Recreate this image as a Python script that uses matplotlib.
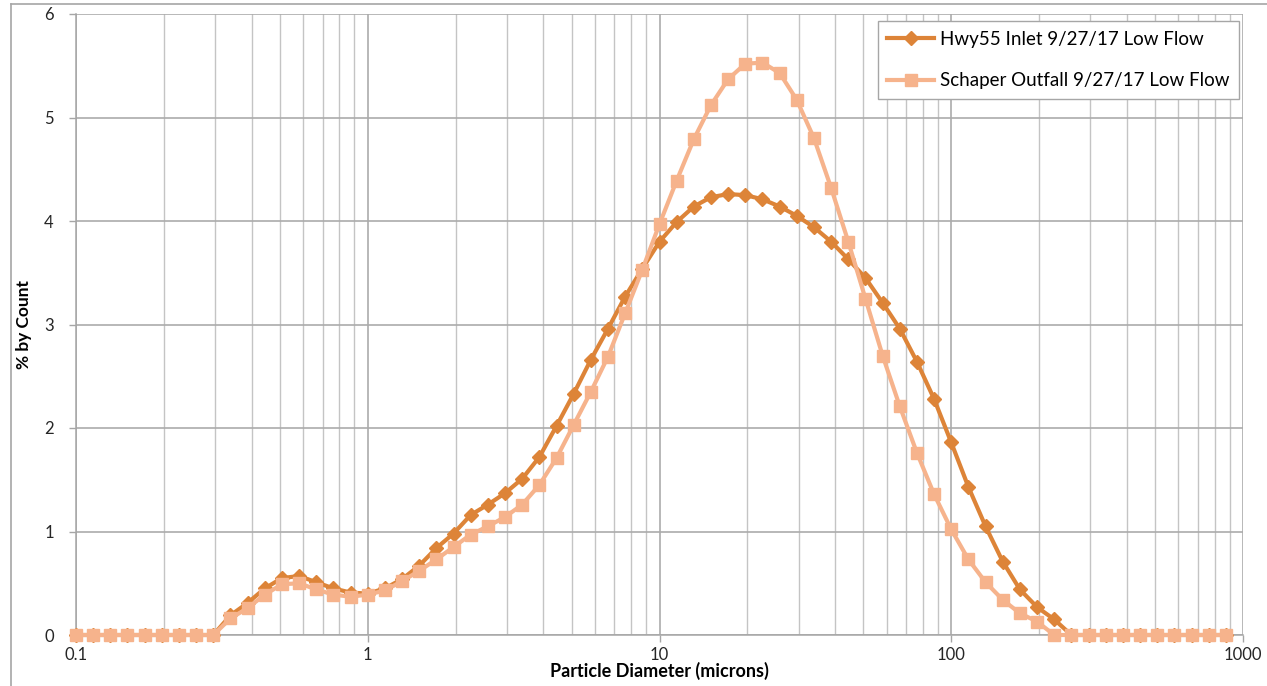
import matplotlib
matplotlib.use("Agg")
import matplotlib.pyplot as plt
from matplotlib.lines import Line2D
from matplotlib.ticker import FixedLocator, NullFormatter

# Particle size distribution, Hwy55 inlet vs Schaper outfall (9/27/17 low flow)

diameter_um = [
    0.1, 0.1145, 0.1311, 0.1501, 0.1719, 0.1968, 0.2254, 0.2581, 0.2955,
    0.3384, 0.3875, 0.4437, 0.5080, 0.5817, 0.6661, 0.7627, 0.8733,
    1.0, 1.145, 1.311, 1.501, 1.719, 1.968, 2.254, 2.581, 2.955,
    3.384, 3.875, 4.437, 5.080, 5.817, 6.661, 7.627, 8.733,
    10.0, 11.45, 13.11, 15.01, 17.19, 19.68, 22.54, 25.81, 29.55,
    33.84, 38.75, 44.37, 50.80, 58.17, 66.61, 76.27, 87.33,
    100.0, 114.5, 131.1, 150.1, 171.9, 196.8, 225.4, 258.1, 295.5,
    338.4, 387.5, 443.7, 508.0, 581.7, 666.1, 762.7, 873.3,
]

hwy55_inlet = [
    0, 0, 0, 0, 0, 0, 0, 0, 0,
    0.19, 0.31, 0.45, 0.55, 0.57, 0.51, 0.45, 0.41,
    0.40, 0.45, 0.54, 0.67, 0.84, 0.98, 1.16, 1.26, 1.37,
    1.51, 1.72, 2.02, 2.33, 2.66, 2.96, 3.27, 3.54,
    3.80, 3.99, 4.14, 4.23, 4.26, 4.25, 4.21, 4.14, 4.05,
    3.94, 3.80, 3.63, 3.45, 3.21, 2.96, 2.64, 2.28,
    1.86, 1.43, 1.05, 0.71, 0.44, 0.27, 0.15, 0, 0,
    0, 0, 0, 0, 0, 0, 0, 0,
]

schaper_outfall = [
    0, 0, 0, 0, 0, 0, 0, 0, 0,
    0.16, 0.26, 0.39, 0.49, 0.50, 0.44, 0.39, 0.37,
    0.39, 0.43, 0.52, 0.62, 0.73, 0.85, 0.97, 1.05, 1.14,
    1.26, 1.45, 1.71, 2.03, 2.35, 2.69, 3.11, 3.53,
    3.97, 4.39, 4.79, 5.12, 5.37, 5.52, 5.53, 5.43, 5.17,
    4.80, 4.32, 3.80, 3.25, 2.70, 2.21, 1.76, 1.36,
    1.02, 0.73, 0.51, 0.34, 0.21, 0.13, 0, 0, 0,
    0, 0, 0, 0, 0, 0, 0, 0,
]

series_labels = ["Hwy55 Inlet 9/27/17 Low Flow", "Schaper Outfall 9/27/17 Low Flow"]
x_ticks = [0.1, 1, 10, 100, 1000]
x_tick_labels = ["0.1", "1", "10", "100", "1000"]
y_ticks = [0, 1, 2, 3, 4, 5, 6]

DARK = "#DD8438"
LIGHT = "#F6B38C"
GRID = "#C4C4C4"

plt.rcParams["font.family"] = ["Lato", "DejaVu Sans"]

W, H = 1267, 686
fig = plt.figure(figsize=(W / 100, H / 100), dpi=100)
ax = fig.add_axes([76 / W, (H - 635) / H, (1243 - 76) / W, (635 - 14) / H])

ax.set_xscale("log")
ax.set_xlim(0.1, 1000)
ax.set_ylim(0, 6)

# grid: decades + 2..9 minor lines, horizontal at every integer
minor = [m * 10.0 ** e for e in range(-1, 3) for m in range(2, 10)]
ax.xaxis.set_minor_locator(FixedLocator(minor))
ax.xaxis.set_minor_formatter(NullFormatter())
ax.set_xticks(x_ticks)
ax.set_xticklabels(x_tick_labels)
ax.set_yticks(y_ticks)
ax.grid(True, which="major", color="#ABABAB", lw=1.2)
ax.grid(True, which="minor", axis="x", color=GRID, lw=1.0)
ax.set_axisbelow(True)

for side in ["top", "right"]:
    ax.spines[side].set_visible(False)
for side in ["left", "bottom"]:
    ax.spines[side].set_color("#A6A6A6")
    ax.spines[side].set_linewidth(1.1)

ax.tick_params(axis="both", which="major", direction="out", length=5, width=1,
               color="#A6A6A6", labelsize=12, labelcolor="#262626")
ax.tick_params(axis="x", which="minor", length=0)
ax.tick_params(axis="x", pad=4)
ax.tick_params(axis="y", pad=11)

ax.plot(diameter_um, hwy55_inlet, color=DARK, lw=3.0, marker="D", ms=6.8,
        mec=DARK, mfc=DARK, label=series_labels[0], clip_on=False, zorder=3)
ax.plot(diameter_um, schaper_outfall, color=LIGHT, lw=3.0, marker="s", ms=8.8,
        mec=LIGHT, mfc=LIGHT, label=series_labels[1], clip_on=False, zorder=4)

ax.set_xlabel("Particle Diameter (microns)", fontsize=13, fontweight="bold", labelpad=-1)
ax.set_ylabel("% by Count", fontsize=12.5, fontweight="bold", labelpad=9)

leg = fig.legend(loc="upper right", bbox_to_anchor=(1239 / W, 1 - 21 / H),
                 borderaxespad=0, fontsize=13.5, frameon=True, fancybox=False,
                 edgecolor="#A6A6A6", framealpha=1, handlelength=2.5,
                 handletextpad=0.3, labelspacing=1.3, borderpad=0.52)
leg.get_frame().set_linewidth(1.0)

# outer chart border (top and left only visible)
fig.add_artist(Line2D([11 / W, 11 / W], [0, 1 - 4 / H], color="#A6A6A6", lw=1.2))
fig.add_artist(Line2D([11 / W, 1], [1 - 4 / H, 1 - 4 / H], color="#A6A6A6", lw=1.2))

fig.savefig("out.png", dpi=100)
